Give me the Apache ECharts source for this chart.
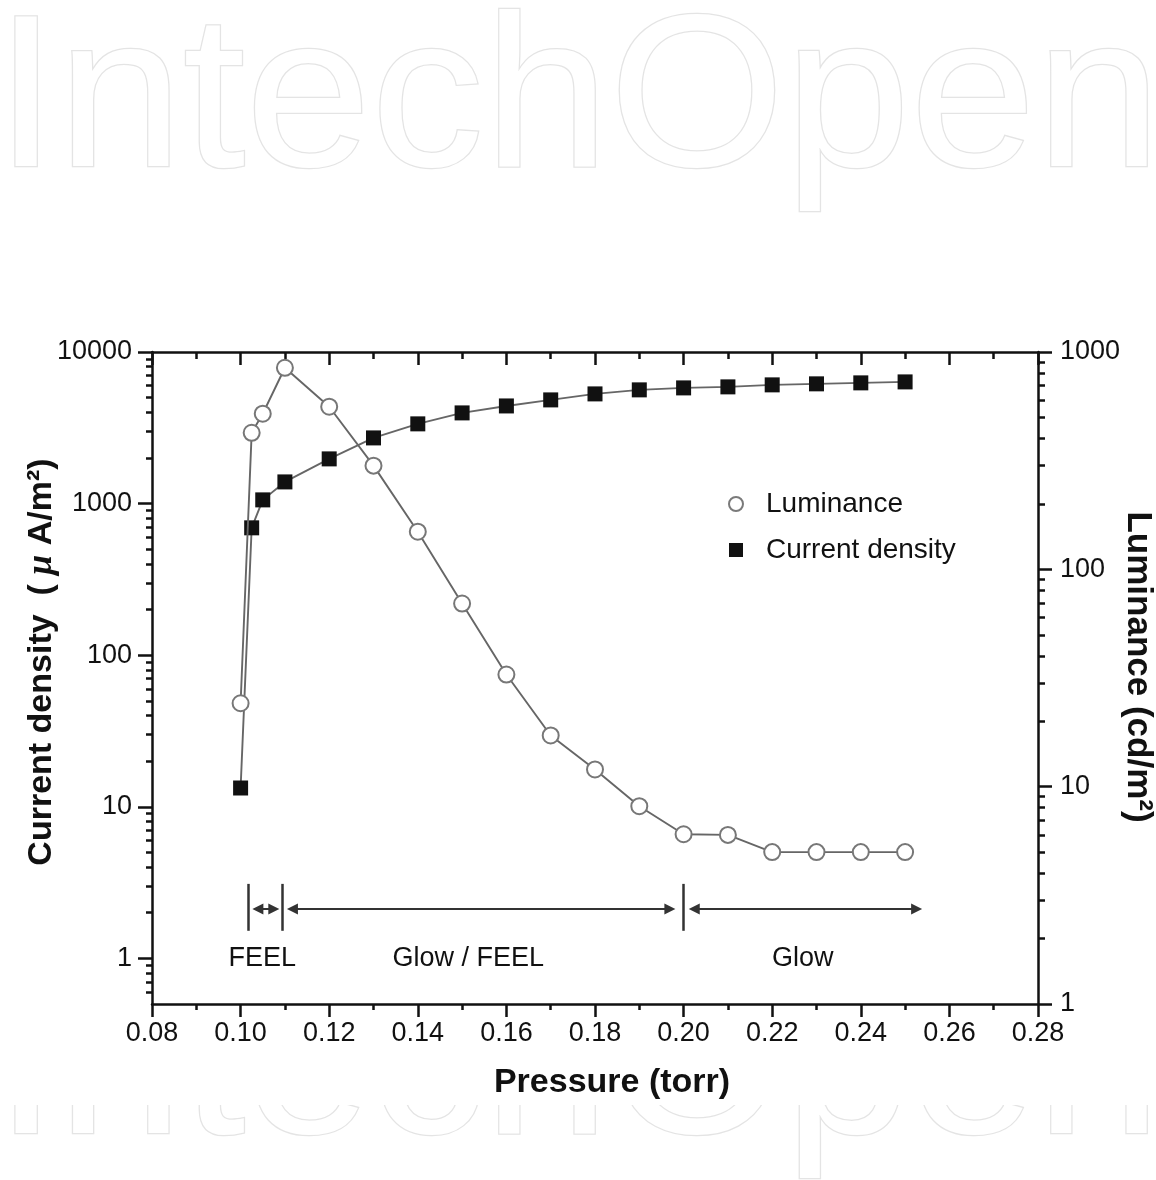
<!DOCTYPE html>
<html><head><meta charset="utf-8">
<script src="https://cdn.jsdelivr.net/npm/echarts@6/dist/echarts.min.js"></script>
<style>html,body{margin:0;padding:0;background:#fff}#chart{width:1156px;height:1180px}</style>
</head><body><div id="chart"></div>
<script>
// ---- data ----
const pressure = [0.10, 0.1025, 0.105, 0.11, 0.12, 0.13, 0.14, 0.15, 0.16, 0.17, 0.18, 0.19, 0.20, 0.21, 0.22, 0.23, 0.24, 0.25];
const luminance = [24.2, 425, 520, 846, 560, 300, 149, 69.6, 32.8, 17.2, 12.0, 8.13, 6.04, 6.0, 5.0, 5.0, 5.0, 5.0];
const currentDensity = [13.3, 692, 1058, 1390, 1972, 2712, 3357, 3965, 4407, 4831, 5292, 5626, 5797, 5888, 6070, 6165, 6257, 6350];
const leftMajorTicks = [1, 10, 100, 1000, 10000];
const rightMajorTicks = [1, 10, 100, 1000];
const xTickLabels = ['0.08','0.10','0.12','0.14','0.16','0.18','0.20','0.22','0.24','0.26','0.28'];
// region annotations (pressure units, current-density axis units)
const regionBounds = [0.1017, 0.1094, 0.2000];
const regionArrows = [[0.1039, 0.1075], [0.1117, 0.1969], [0.2024, 0.2526]];
const regionLabels = ['FEEL', 'Glow / FEEL', 'Glow'];
const regionLabelX = [0.1049, 0.1514, 0.2269];
const arrowLevel = 2.12, boundLow = 1.52, boundHigh = 3.10, labelLevel = 1;

function minorLog(lo, hi) { const out = []; for (let d = lo; d < hi; d *= 10) { for (let k = 2; k <= 9; k++) { out.push(+(d * k).toPrecision(6)); } } return out; }
const leftMinorTicks = [0.6, 0.7, 0.8, 0.9].concat(minorLog(1, 10000));
const rightMinorTicks = minorLog(1, 1000);

const FONT = '"Liberation Sans", Arial, Helvetica, sans-serif';
const INK = '#111';
const axLine = { show: true, onZero: false, lineStyle: { color: INK, width: 2.5 } };
const tickStyle = { color: INK, width: 2.5 };
const wmStyle = { text: 'IntechOpen', font: '218px "Liberation Sans", Arial, sans-serif', align: 'center', verticalAlign: 'middle',
  textAlign: 'center', textVerticalAlign: 'middle', fill: '#ffffff', stroke: '#e4e4e4', lineWidth: 2.5 };

const chart = echarts.init(document.getElementById('chart'), null, { renderer: 'canvas' });
const option = {
  animation: false,
  backgroundColor: '#fff',
  grid: { left: 152, right: 118, top: 352, bottom: 176, containLabel: false, outerBoundsMode: 'none' },
  legend: {
    orient: 'vertical', left: 723, top: 485, itemWidth: 14, itemHeight: 14, itemGap: 18, selectedMode: false,
    textStyle: { fontSize: 28, fontFamily: FONT, color: INK, lineHeight: 28, padding: [0, 0, 0, 18] },
    data: [
      { name: 'Luminance', icon: 'circle', itemStyle: { color: '#fff', borderColor: '#7a7a7a', borderWidth: 2 } },
      { name: 'Current density', icon: 'rect', itemStyle: { color: INK, borderWidth: 0 } }
    ]
  },
  xAxis: [
    {
      type: 'value', min: 0.08, max: 0.28, interval: 0.02, position: 'bottom',
      axisLine: axLine,
      axisTick: { show: true, inside: false, length: 13, lineStyle: tickStyle },
      minorTick: { show: true, splitNumber: 2, length: 6, lineStyle: tickStyle },
      axisLabel: { margin: 16, fontSize: 27, color: INK, fontFamily: FONT,
        formatter: v => xTickLabels[Math.round((v - 0.08) / 0.02)] },
      splitLine: { show: false },
      name: 'Pressure (torr)', nameLocation: 'middle', nameGap: 62, nameMoveOverlap: false,
      nameTextStyle: { fontSize: 34, fontWeight: 'bold', fontFamily: FONT, color: INK, padding: [0, 0, 0, 34] }
    },
    {
      type: 'value', min: 0.08, max: 0.28, interval: 0.02, position: 'top',
      axisLine: axLine,
      axisTick: { show: true, inside: true, length: 13, lineStyle: tickStyle },
      minorTick: { show: true, splitNumber: 2, length: 7, lineStyle: tickStyle },
      axisLabel: { show: false }, splitLine: { show: false }
    }
  ],
  yAxis: [
    {
      type: 'log', logBase: 10, min: 0.5, max: 10000, position: 'left',
      axisLine: axLine,
      axisTick: { show: true, length: 14, customValues: leftMajorTicks, lineStyle: tickStyle },
      axisLabel: { customValues: leftMajorTicks, margin: 20, fontSize: 27, color: INK, fontFamily: FONT,
        formatter: v => String(Math.round(v)) },
      splitLine: { show: false }, minorTick: { show: false },
      name: '{a|Current density  ( }{m|μ}{a| A/m²)}', nameLocation: 'middle', nameGap: 92, nameMoveOverlap: false,
      nameTextStyle: { fontSize: 34, fontWeight: 'bold', fontFamily: FONT, color: INK, padding: [0, 0, 0, 32],
        rich: { a: { fontSize: 34, fontWeight: 'bold', fontFamily: FONT, color: INK },
                m: { fontSize: 36, fontStyle: 'italic', fontFamily: '"Liberation Serif", "DejaVu Serif", serif', color: INK } } }
    },
    {
      type: 'log', logBase: 10, min: 1, max: 1000, position: 'right',
      axisLine: axLine,
      axisTick: { show: true, length: 14, customValues: rightMajorTicks, lineStyle: tickStyle },
      axisLabel: { customValues: rightMajorTicks, margin: 22, fontSize: 27, color: INK, fontFamily: FONT,
        formatter: v => String(Math.round(v)) },
      splitLine: { show: false }, minorTick: { show: false },
      name: 'Luminance (cd/m²)', nameLocation: 'middle', nameRotate: -90, nameGap: 82, nameMoveOverlap: false,
      nameTextStyle: { fontSize: 35, fontWeight: 'bold', fontFamily: FONT, color: INK, padding: [0, 22, 0, 0] }
    },
    {
      type: 'log', logBase: 10, min: 0.5, max: 10000, position: 'left',
      axisLine: { show: false },
      axisTick: { show: true, length: 6, customValues: leftMinorTicks, lineStyle: tickStyle },
      axisLabel: { show: false }, splitLine: { show: false }
    },
    {
      type: 'log', logBase: 10, min: 1, max: 1000, position: 'right',
      axisLine: { show: false },
      axisTick: { show: true, length: 7, customValues: rightMinorTicks, lineStyle: tickStyle },
      axisLabel: { show: false }, splitLine: { show: false }
    }
  ],
  graphic: [
    { type: 'text', z: -10, x: 578, y: 106, scaleX: 1.035, style: wmStyle },
    { type: 'text', z: -10, x: 578, y: 1073, scaleX: 1.035, style: wmStyle },
    { type: 'rect', z: -5, shape: { x: 0, y: 240, width: 1156, height: 865 }, style: { fill: '#ffffff' } }
  ],
  series: [
    {
      name: 'Current density', type: 'line', xAxisIndex: 0, yAxisIndex: 0,
      data: pressure.map((p, i) => [p, currentDensity[i]]),
      symbol: 'rect', symbolSize: 15, itemStyle: { color: INK },
      lineStyle: { color: '#666', width: 1.9 }, z: 3, silent: true
    },
    {
      name: 'Luminance', type: 'line', xAxisIndex: 0, yAxisIndex: 1,
      data: pressure.map((p, i) => [p, luminance[i]]),
      symbol: 'circle', symbolSize: 16, itemStyle: { color: '#fff', borderColor: '#777', borderWidth: 2 },
      lineStyle: { color: '#666', width: 1.9 }, z: 4, silent: true
    },
    {
      name: 'regionText', type: 'scatter', xAxisIndex: 0, yAxisIndex: 0, silent: true,
      data: regionLabels.map((t, i) => [regionLabelX[i], labelLevel, t]),
      symbolSize: 1, itemStyle: { color: 'transparent', opacity: 1 },
      label: { show: true, position: 'inside', formatter: p => p.value[2], fontSize: 27, fontFamily: FONT,
        color: INK, opacity: 1, textBorderWidth: 0 },
      markLine: {
        silent: true, animation: false, symbol: ['triangle', 'triangle'], symbolSize: 11,
        lineStyle: { color: '#333', width: 2, type: 'solid' }, label: { show: false },
        data: regionArrows.map(a => [{ coord: [a[0], arrowLevel] }, { coord: [a[1], arrowLevel] }])
      }
    },
    {
      name: 'regionBounds', type: 'scatter', xAxisIndex: 0, yAxisIndex: 0, silent: true, data: [],
      markLine: {
        silent: true, animation: false, symbol: ['none', 'none'],
        lineStyle: { color: '#333', width: 2.5, type: 'solid' }, label: { show: false },
        data: regionBounds.map(b => [{ coord: [b, boundLow] }, { coord: [b, boundHigh] }])
      }
    }
  ]
};
chart.setOption(option);
</script>
</body></html>
